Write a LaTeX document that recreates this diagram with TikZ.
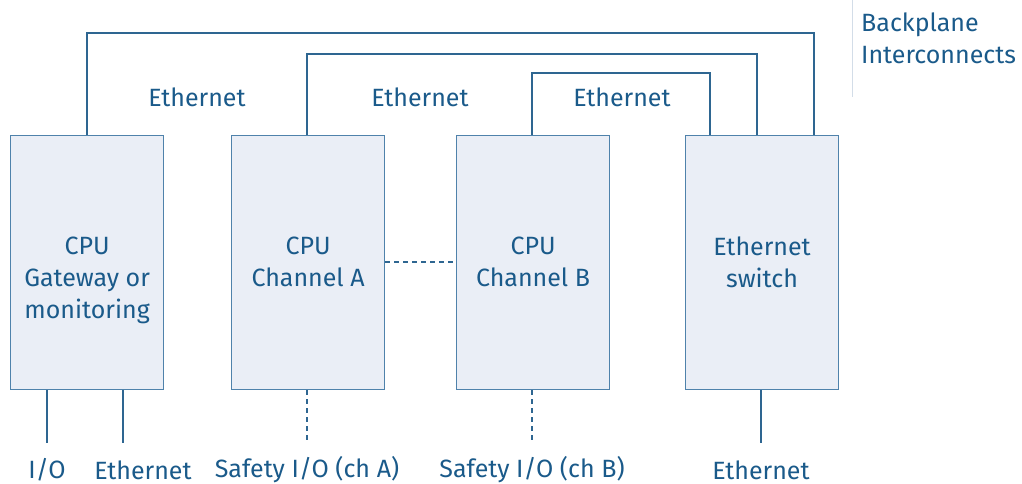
\documentclass[tikz,border=0pt]{standalone}
\usepackage{fontspec}
\setmainfont{Fira Sans}
\definecolor{txt}{HTML}{1A5A8A}
\definecolor{ln}{HTML}{2E6691}
\definecolor{bx}{HTML}{4F82AB}
\definecolor{fillc}{HTML}{EAEEF6}
\definecolor{sep}{HTML}{D3DDE8}
\begin{document}
\begin{tikzpicture}[x=1pt,y=-1pt,
  unit/.style={draw=bx,fill=fillc,line width=1.2pt,minimum width=153pt,minimum height=254pt,inner sep=0pt,anchor=north west},
  lbl/.style={text=txt,font=\fontsize{25}{32}\selectfont,inner sep=0pt,align=center},
  wire/.style={draw=ln,line width=1.2pt},
  dwire/.style={draw=ln,line width=1.2pt,dash pattern=on 5pt off 4pt}]
\useasboundingbox (0,0) rectangle (1022,484);
\node[unit] (b1) at (10,135) {};
\node[unit] (b2) at (231,135) {};
\node[unit] (b3) at (456,135) {};
\node[unit] (b4) at (685,135) {};
\node[lbl,anchor=north] (b1t) at (b1.center |- 0,237) {CPU\\Gateway or\\monitoring};
\node[lbl,anchor=north] (b2t) at (b2.center |- 0,237) {CPU\\Channel A};
\node[lbl,anchor=north] (b3t) at (b3.center |- 0,237) {CPU\\Channel B};
\node[lbl,anchor=north] (b4t) at (b4.center |- 0,237) {Ethernet\\switch};
% backplane wires
\draw[wire] (b1.north west) ++(77,0) coordinate (t1) |- (814,33) coordinate (c1) -- (c1 |- b4.north);
\draw[wire] (b2.north west) ++(76,0) coordinate (t2) |- (757,54) coordinate (c2) -- (c2 |- b4.north);
\draw[wire] (b3.north west) ++(76,0) coordinate (t3) |- (710,73) coordinate (c3) -- (c3 |- b4.north);
\node[lbl] (e1) at (197,97) {Ethernet};
\node[lbl] (e2) at (420,97) {Ethernet};
\node[lbl] (e3) at (622,97) {Ethernet};
% separator and backplane label
\coordinate (s1) at (852,0);
\coordinate (s2) at (852,97);
\draw[sep,line width=1pt] (s1) -- (s2);
\node[lbl,anchor=west,align=left] (bp) at (861,38) {Backplane\\Interconnects};
% cross-channel dashed link
\draw[dwire] (b2.east |- 0,262) -- (b3.west |- 0,262);
% bottom connections
\coordinate (d1) at (47,443);
\coordinate (d2) at (123,443);
\coordinate (d3) at (307,443);
\coordinate (d4) at (532,443);
\coordinate (d5) at (761,443);
\draw[wire] (d1 |- b1.south) -- (d1);
\draw[wire] (d2 |- b1.south) -- (d2);
\draw[dwire] (d3 |- b2.south) -- (d3);
\draw[dwire] (d4 |- b3.south) -- (d4);
\draw[wire] (d5 |- b4.south) -- (d5);
\node[lbl] (l1) at (47,470) {I/O};
\node[lbl] (l2) at (143,470) {Ethernet};
\node[lbl] (l3) at (307,470) {Safety I/O (ch A)};
\node[lbl] (l4) at (532,470) {Safety I/O (ch B)};
\node[lbl] (l5) at (761,470) {Ethernet};
\end{tikzpicture}
\end{document}
